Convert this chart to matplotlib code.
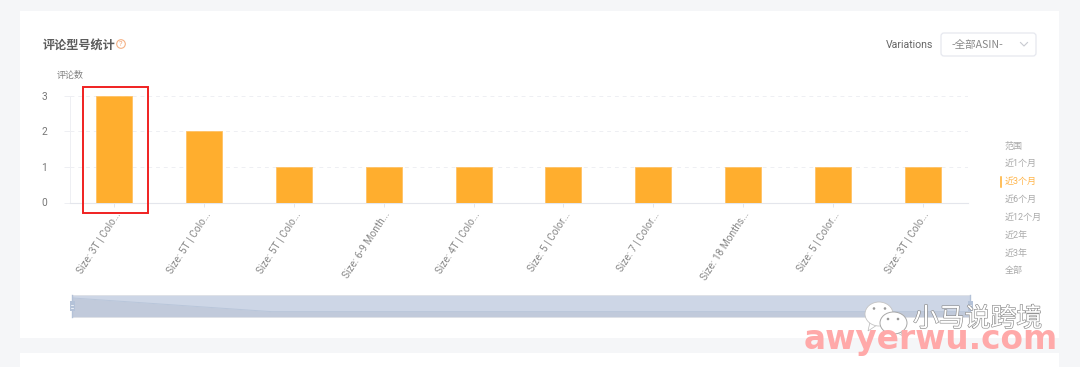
import matplotlib
matplotlib.use('Agg')
import matplotlib.pyplot as plt
import matplotlib.patheffects as pe
from matplotlib.patches import Rectangle, FancyBboxPatch, Ellipse, Polygon, Circle

plt.rcParams['font.family'] = ['Roboto', 'Noto Sans CJK SC', 'DejaVu Sans']

# data
labels = ['Size: 3T | Colo...', 'Size: 5T | Colo...', 'Size: 5T | Colo...', 'Size: 6-9 Month...',
          'Size: 4T | Colo...', 'Size: 5 | Color...', 'Size: 7 | Color...', 'Size: 18 Months...',
          'Size: 5 | Color...', 'Size: 3T | Colo...']
counts = [3, 2, 1, 1, 1, 1, 1, 1, 1, 1]
y_ticks = [0, 1, 2, 3]
ranges = ['范围', '近1个月', '近3个月', '近6个月', '近12个月', '近2年', '近3年', '全部']
active_range = '近3个月'

W, H = 1080, 367
fig = plt.figure(figsize=(W / 100, H / 100), dpi=100, facecolor='#f5f6f8')


def px_axes(left, top, right, bottom, z):
    a = fig.add_axes([left / W, 1 - bottom / H, (right - left) / W, (bottom - top) / H], zorder=z)
    return a


# page background and cards, pixel coordinates
bg = px_axes(0, 0, W, H, 0)
bg.set_xlim(0, W)
bg.set_ylim(H, 0)
bg.axis('off')
bg.add_patch(Rectangle((20, 11), 1039, 327, fc='white', ec='none'))
bg.add_patch(Rectangle((20, 353), 1039, 20, fc='white', ec='none'))

bg.text(43, 45.5, '评论型号统计', fontsize=8.7, fontweight='bold', color='#5c5c5c', va='center')
bg.add_patch(Circle((121, 44), 4.3, fc='white', ec='#f5b184', lw=0.8))
bg.text(121, 44, '?', fontsize=5.5, color='#f0a070', ha='center', va='center')
bg.text(57, 75.5, '评论数', fontsize=6.5, color='#808080', va='center')

# variations selector
bg.text(886, 44.5, 'Variations', fontsize=7.6, color='#666666', va='center')
bg.add_patch(FancyBboxPatch((941, 33), 95, 23, boxstyle='round,pad=0,rounding_size=3',
                            fc='white', ec='#e6e8ef', lw=0.9))
bg.text(952, 45, '-全部ASIN-', fontsize=7.6, color='#888888', va='center',
        family=['Noto Sans CJK SC', 'DejaVu Sans'])
bg.plot([1020.5, 1024, 1027.5], [42.5, 46, 42.5], color='#c8cad0', lw=0.8)

# range list on the right
for i, r in enumerate(ranges):
    y = 146 + i * 17.85
    on = r == active_range
    bg.text(1005, y, r, fontsize=6.5, color='#ffb54a' if on else '#aaaaaa', va='center')
    if on:
        bg.plot([1000.5, 1000.5], [y - 5, y + 5], color='#ffae2e', lw=1.1)

# bar chart
ax = px_axes(69.5, 95.5, 967.5, 202.5, 1)
ax.patch.set_alpha(0)
x = range(len(counts))
ax.bar(x, counts, width=0.4, color='#ffae2e', edgecolor='#ffc266', linewidth=0.6, zorder=3)
ax.set_xlim(-0.5, len(counts) - 0.5)
ax.set_ylim(0, 3)
ax.set_yticks(y_ticks)
ax.set_xticks(list(x))
ax.set_xticklabels(labels, rotation=57, ha='right', va='top', rotation_mode='anchor')
ax.tick_params(axis='x', length=3, width=0.7, color='#e4e6ec', labelsize=7.3, labelcolor='#888888', pad=2)
ax.tick_params(axis='y', length=4, width=0.7, color='#eeeff3', labelsize=7.3, labelcolor='#777777', pad=12)
ax.grid(axis='y', color='#eeeff3', linestyle=(0, (4, 4)), linewidth=0.7, zorder=0)
for s in ['top', 'right']:
    ax.spines[s].set_visible(False)
ax.spines['left'].set_color('#eeeff3')
ax.spines['bottom'].set_color('#e4e6ec')
ax.spines['left'].set_linewidth(0.7)
ax.spines['bottom'].set_linewidth(0.8)

# zoom slider with data preview
sl = px_axes(72, 295, 970, 316.5, 1)
sl.set_facecolor('#cdd6e6')
sl.plot(list(x), counts, color='#b9c6da', lw=0.7)
sl.fill_between(list(x), counts, 0, color='#c1cadb', lw=0)
sl.set_xlim(0, len(counts) - 1)
sl.set_ylim(0.29, 3.43)
sl.set_xticks([])
sl.set_yticks([])
for s in sl.spines.values():
    s.set_color('#dfe2e8')
    s.set_linewidth(0.7)

# overlay: red highlight, slider handles, watermark
top = px_axes(0, 0, W, H, 5)
top.set_xlim(0, W)
top.set_ylim(H, 0)
top.axis('off')
top.patch.set_alpha(0)
top.add_patch(Rectangle((83, 87), 65, 126, fc='none', ec='#f02020', lw=1.4))
for hx in [72, 970]:
    top.plot([hx, hx], [295, 317], color='#b4c2d8', lw=1)
    top.add_patch(Rectangle((hx - 2.5, 301), 5, 10, fc='#b4c2d8', ec='none'))
    top.plot([hx - 1, hx + 1], [304.5, 304.5], color='white', lw=0.5)
    top.plot([hx - 1, hx + 1], [307.5, 307.5], color='white', lw=0.5)

top.add_patch(Polygon([[870, 322], [868, 331], [877, 325]], fc='white', ec='#b8b8b8', lw=0.5))
top.add_patch(Ellipse((879, 314), 28, 24, fc='white', ec='#c4c4c4', lw=0.6))
top.add_patch(Polygon([[899, 329], [903, 336], [894, 331]], fc='white', ec='#b8b8b8', lw=0.5))
top.add_patch(Ellipse((893.5, 323), 27, 22, fc='white', ec='#a8a8a8', lw=0.7))
for dx, dy in [(874, 308.5), (885, 308.5), (888, 319), (898, 319)]:
    top.add_patch(Circle((dx, dy), 1.3, fc='#9a9a9a', ec='none'))
top.text(913, 319, '小马说跨境', fontsize=18.6, color='white', va='center',
         path_effects=[pe.withStroke(linewidth=0.9, foreground='#8a8a8a')])
top.text(804, 339, 'awyerwu.com', fontsize=23.6, fontweight='bold', family='DejaVu Sans',
         color='#ffa9a9', va='center')

fig.savefig('out.png', dpi=100, facecolor=fig.get_facecolor())
